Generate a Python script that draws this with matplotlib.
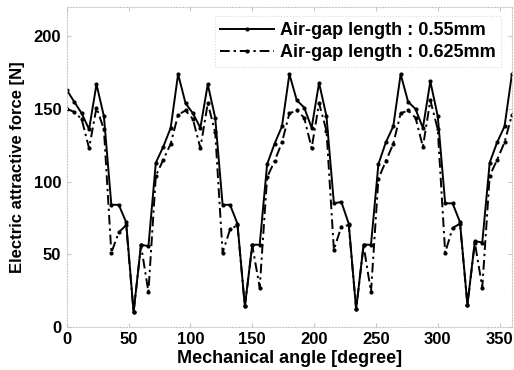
import matplotlib
matplotlib.use("Agg")
import matplotlib.pyplot as plt

plt.rcParams['font.family'] = ['Liberation Sans', 'DejaVu Sans']
plt.rcParams['font.weight'] = 'bold'

angle = [0, 6, 12, 18, 24, 30, 36, 42, 48, 54, 60, 66, 72, 78, 84,
         90, 96, 102, 108, 114, 120, 126, 132, 138, 144, 150, 156, 162, 168, 174,
         180, 186, 192, 198, 204, 210, 216, 222, 228, 234, 240, 246, 252, 258, 264,
         270, 276, 282, 288, 294, 300, 306, 312, 318, 324, 330, 336, 342, 348, 354,
         360]

force_055 = [163, 155, 147, 136, 167, 145, 84, 84, 72, 10, 56.5, 55.5, 113, 124, 137,
             174, 154, 147, 137, 167, 144, 84, 84, 71, 14, 56.5, 56.5, 112, 126, 138,
             174, 156, 151, 137, 168, 145, 85, 86, 71, 12, 56.5, 56.5, 112, 127, 138,
             174, 155, 150, 137, 169, 145, 85, 85, 72, 15, 59, 58, 113, 127, 138,
             174]

force_0625 = [150, 148, 143, 123, 151, 136, 51, 65, 70, 10, 56, 24, 104, 115, 126,
              146, 149, 143, 123, 154, 134, 51, 67, 70, 14, 56, 27, 103, 114, 127,
              147, 149, 144, 123, 154, 135, 53, 69, 70, 12, 56, 24, 102, 114, 126,
              147, 149, 144, 124, 156, 136, 51, 68, 71, 15, 58, 27, 104, 115, 127,
              146]

labels = ['Air-gap length : 0.55mm', 'Air-gap length : 0.625mm']
xticks = [0, 50, 100, 150, 200, 250, 300, 350]
yticks = [0, 50, 100, 150, 200]

fig = plt.figure(figsize=(5.14, 3.70), dpi=100)
ax = fig.add_axes([0.130, 0.117, 0.866, 0.863])

ax.plot(angle, force_055, color='black', linestyle='-', linewidth=1.4,
        marker='.', markersize=4, label=labels[0])
ax.plot(angle, force_0625, color='black', linestyle=(0, (5, 2, 1.2, 2)), linewidth=1.4,
        marker='.', markersize=4, label=labels[1])

ax.set_xlim(0, 360)
ax.set_ylim(0, 220)
ax.set_xticks(xticks)
ax.set_yticks(yticks)
ax.tick_params(axis='both', labelsize=12, direction='in', length=3, color='#c8c8c8',
               top=True, right=True, pad=4)
for lab in ax.get_xticklabels() + ax.get_yticklabels():
    lab.set_fontweight('bold')

for sp in ax.spines.values():
    sp.set_color('#c8c8c8')
    sp.set_linestyle(':')
    sp.set_linewidth(0.8)

ax.set_xlabel('Mechanical angle [degree]', fontsize=13, fontweight='bold', labelpad=2)
ax.set_ylabel('Electric attractive force [N]', fontsize=12, fontweight='bold', labelpad=6)

leg = ax.legend(loc='upper right', bbox_to_anchor=(0.995, 1.0), fontsize=13,
                frameon=True, handlelength=3.0, handletextpad=0.3, borderpad=0.3,
                labelspacing=0.3, fancybox=False, prop={'weight': 'bold', 'size': 13})
leg.get_frame().set_edgecolor('#d0d0d0')
leg.get_frame().set_linestyle(':')
leg.get_frame().set_linewidth(0.8)

fig.savefig('out.png', dpi=100)
